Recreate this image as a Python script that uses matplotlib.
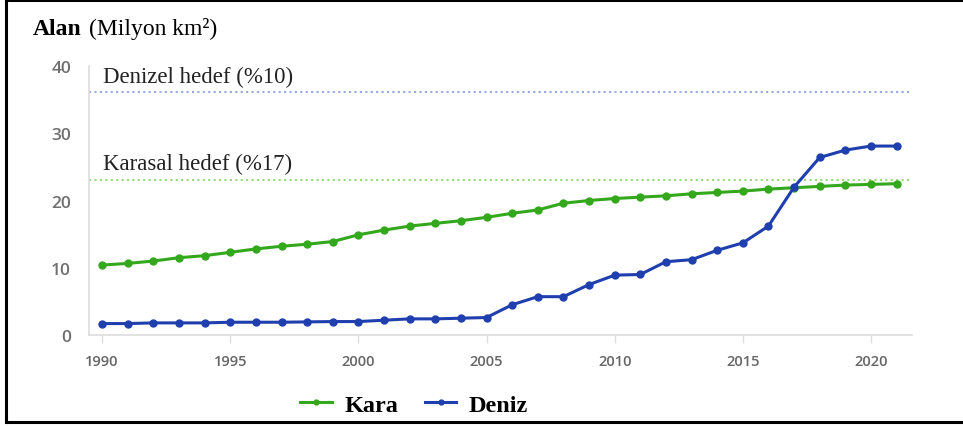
import matplotlib.pyplot as plt
from matplotlib.lines import Line2D

# data
years = list(range(1990, 2022))
kara = [10.4, 10.65, 11.0, 11.5, 11.8, 12.3, 12.8, 13.2, 13.5, 13.9,
        14.9, 15.6, 16.2, 16.6, 17.0, 17.5, 18.1, 18.6, 19.6, 20.0,
        20.3, 20.5, 20.7, 21.0, 21.2, 21.4, 21.7, 21.9, 22.1, 22.3,
        22.4, 22.5]
deniz = [1.7, 1.7, 1.8, 1.8, 1.8, 1.9, 1.9, 1.9, 1.95, 2.0,
         2.0, 2.2, 2.4, 2.4, 2.5, 2.6, 4.5, 5.7, 5.7, 7.5,
         8.9, 9.0, 10.9, 11.2, 12.6, 13.7, 16.2, 22.0, 26.4, 27.5,
         28.1, 28.1]
deniz_hedef = 36.2
kara_hedef = 23.1
xticks = [1990, 1995, 2000, 2005, 2010, 2015, 2020]
yticks = [0, 10, 20, 30, 40]

green = '#34a81c'
blue = '#1f3fae'
serif = 'Liberation Serif'

fig = plt.figure(figsize=(9.63, 4.27), dpi=100)
ax = fig.add_axes([0.0925, 0.2131, 0.8545, 0.6299])

ax.axhline(deniz_hedef, color='#8ea4e2', lw=1.3, ls=(0, (1.2, 1.8)))
ax.axhline(kara_hedef, color='#8fd86e', lw=1.3, ls=(0, (1.2, 1.8)))
ax.text(1990.05, deniz_hedef + 2.3, 'Denizel hedef (%10)', family=serif,
        fontsize=16.5, color='#222222', va='center')
ax.text(1990.05, kara_hedef + 2.4, 'Karasal hedef (%17)', family=serif,
        fontsize=16.5, color='#222222', va='center')

ax.plot(years, kara, color=green, lw=2.2, marker='o', ms=5, zorder=3)
ax.plot(years, deniz, color=blue, lw=2.2, marker='o', ms=5, zorder=4)

ax.set_xlim(1989.49, 2021.6)
ax.set_ylim(0, 40)
ax.set_xticks(xticks)
ax.set_yticks(yticks)
for s in ['top', 'right']:
    ax.spines[s].set_visible(False)
for s in ['left', 'bottom']:
    ax.spines[s].set_color('#dddddd')
    ax.spines[s].set_linewidth(1.2)
ax.tick_params(axis='y', length=0, pad=13, labelsize=12.5, labelcolor='#707070')
ax.tick_params(axis='x', length=6, width=1, color='#dddddd', pad=8,
               labelsize=10.5, labelcolor='#666666')
for lab in ax.get_xticklabels() + ax.get_yticklabels():
    lab.set_fontweight('semibold')
    lab.set_family('Open Sans')

fig.text(0.034, 0.932, 'Alan', family=serif, fontweight='bold', fontsize=17,
         va='center')
fig.text(0.092, 0.932, '(Milyon km²)', family=serif, fontsize=17, va='center')

handles = [Line2D([], [], color=green, lw=2.2, marker='o', ms=3.5),
           Line2D([], [], color=blue, lw=2.2, marker='o', ms=3.5)]
fig.legend(handles, ['Kara', 'Deniz'], loc='center', bbox_to_anchor=(0.43, 0.05),
           ncol=2, frameon=False, handlelength=1.3, handletextpad=0.5,
           columnspacing=1.1,
           prop={'family': serif, 'weight': 'bold', 'size': 17.5})

# frame around the picture (top, left, bottom)
fig.add_artist(Line2D([0.006, 0.006], [0.01, 0.997], color='black', lw=2.2))
fig.add_artist(Line2D([0.006, 1.0], [0.997, 0.997], color='black', lw=2.2))
fig.add_artist(Line2D([0.006, 1.0], [0.01, 0.01], color='black', lw=2.2))

fig.savefig('out.png', dpi=100)
